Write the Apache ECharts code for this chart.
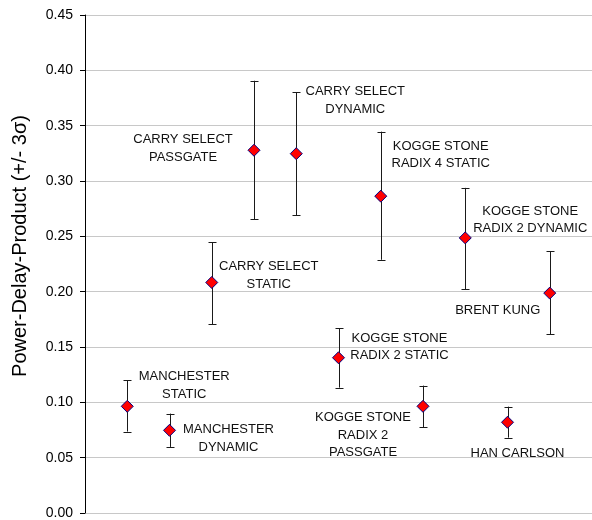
<!DOCTYPE html>
<html>
<head>
<meta charset="utf-8">
<script src="https://cdn.jsdelivr.net/npm/echarts@6/dist/echarts.min.js"></script>
<style>
html,body{margin:0;padding:0;background:#fff;}
#chart{width:592px;height:520px;}
</style>
</head>
<body>
<div id="chart"></div>
<script>
// ---- data ----
var adderNames = [
  'MANCHESTER\nSTATIC',
  'MANCHESTER\nDYNAMIC',
  'CARRY SELECT\nSTATIC',
  'CARRY SELECT\nPASSGATE',
  'CARRY SELECT\nDYNAMIC',
  'KOGGE STONE\nRADIX 2 STATIC',
  'KOGGE STONE\nRADIX 4 STATIC',
  'KOGGE STONE\nRADIX 2\nPASSGATE',
  'KOGGE STONE\nRADIX 2 DYNAMIC',
  'HAN CARLSON',
  'BRENT KUNG'
];
var pdpMean = [0.0964, 0.0747, 0.2083, 0.3278, 0.3247, 0.1403, 0.2863, 0.0964, 0.2486, 0.0820, 0.1987];
var pdpHigh = [0.1199, 0.0898, 0.2448, 0.3906, 0.3804, 0.1668, 0.3446, 0.1151, 0.2938, 0.0961, 0.2363];
var pdpLow  = [0.0736, 0.0597, 0.1704, 0.2655, 0.2691, 0.1133, 0.2288, 0.0774, 0.2023, 0.0681, 0.1614];
var yTicks = [0, 0.05, 0.10, 0.15, 0.20, 0.25, 0.30, 0.35, 0.40, 0.45];

// ---- label placement (styling, pixels relative to marker) ----
var labelOffsets = [
  [57, -21], [59, 8], [57, -7], [-71, -2], [59, -53],
  [61, -11], [60, -41], [-60, 29], [65, -18], [10, 31], [-52, 17]
];

var chart = echarts.init(document.getElementById('chart'), null, {renderer: 'canvas'});

var scatterData = pdpMean.map(function (v, i) {
  return {
    value: [i + 1, v],
    name: adderNames[i],
    label: {offset: labelOffsets[i]}
  };
});
var errData = pdpMean.map(function (v, i) {
  return [i + 1, pdpLow[i], pdpHigh[i]];
});

var option = {
  backgroundColor: '#ffffff',
  animation: false,
  grid: {left: 85, top: 15, width: 509, height: 498.5, containLabel: false},
  xAxis: {
    type: 'value', min: 0, max: 12, show: false,
    splitLine: {show: false}
  },
  yAxis: {
    type: 'value',
    min: yTicks[0], max: yTicks[yTicks.length - 1], interval: 0.05,
    name: 'Power-Delay-Product (+/- 3\u03c3)',
    nameLocation: 'middle',
    nameGap: 55,
    nameTextStyle: {fontFamily: 'Liberation Sans, Arial, sans-serif', fontSize: 20, color: '#000', padding: [0, 0, 0, 36]},
    axisLine: {show: true, lineStyle: {color: '#000', width: 1}},
    axisTick: {show: true, length: 5, lineStyle: {color: '#000'}},
    axisLabel: {
      fontFamily: 'Liberation Sans, Arial, sans-serif', fontSize: 14, color: '#000', margin: 12,
      formatter: function (v) { return v.toFixed(2); }
    },
    splitLine: {show: true, lineStyle: {color: '#c8c8c8', width: 1}}
  },
  series: [
    {
      type: 'custom',
      z: 2,
      data: errData,
      renderItem: function (params, api) {
        var x = api.value(0);
        var lo = api.coord([x, api.value(1)]);
        var hi = api.coord([x, api.value(2)]);
        var cx = Math.round(lo[0]) + 0.5;
        var capW = 4;
        var style = {stroke: '#1a1a1a', lineWidth: 1, fill: null};
        return {
          type: 'group',
          children: [
            {type: 'line', shape: {x1: cx, y1: hi[1], x2: cx, y2: lo[1]}, style: style},
            {type: 'line', shape: {x1: cx - capW, y1: Math.round(hi[1]) + 0.5, x2: cx + capW, y2: Math.round(hi[1]) + 0.5}, style: style},
            {type: 'line', shape: {x1: cx - capW, y1: Math.round(lo[1]) + 0.5, x2: cx + capW, y2: Math.round(lo[1]) + 0.5}, style: style}
          ]
        };
      }
    },
    {
      type: 'scatter',
      z: 3,
      symbol: 'diamond',
      symbolSize: [12, 12],
      itemStyle: {color: '#ff0000', borderColor: '#000080', borderWidth: 1, opacity: 1},
      label: {
        show: true,
        position: 'inside',
        formatter: function (p) { return p.name; },
        fontFamily: 'Liberation Sans, Arial, sans-serif',
        fontSize: 13,
        color: '#111',
        lineHeight: 17.5,
        align: 'center',
        verticalAlign: 'middle'
      },
      data: scatterData
    }
  ]
};
chart.setOption(option);
</script>
</body>
</html>
